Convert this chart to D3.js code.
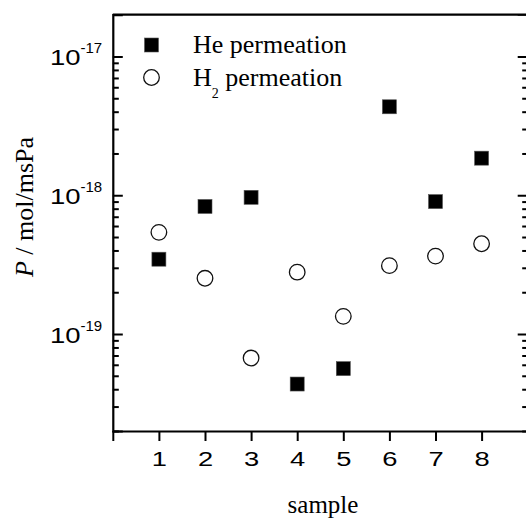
<!DOCTYPE html>
<html>
<head>
<meta charset="utf-8">
<script src="https://cdn.jsdelivr.net/npm/d3@7"></script>
<style>
  body { margin: 0; background: #fff; }
  svg { display: block; }
  .tick text { font-family: "Liberation Sans", Arial, sans-serif; }
  .serif { font-family: "Liberation Serif", "Times New Roman", serif; }
</style>
</head>
<body>
<svg id="chart" width="526" height="518"></svg>
<script>

// data
var samples = [1, 2, 3, 4, 5, 6, 7, 8];
var heValues = [3.46e-19, 8.3e-19, 9.66e-19, 4.36e-20, 5.63e-20, 4.34e-18, 9.0e-19, 1.85e-18];
var h2Values = [5.40e-19, 2.52e-19, 6.71e-20, 2.79e-19, 1.34e-19, 3.11e-19, 3.64e-19, 4.47e-19];

var xTicks = [0, 1, 2, 3, 4, 5, 6, 7, 8, 9];
var xTickLabels = ["", "1", "2", "3", "4", "5", "6", "7", "8", ""];
var yMajor = [1e-19, 1e-18, 1e-17];
var yMajorExp = ["-19", "-18", "-17"];
var yMinor = [2e-20, 3e-20, 4e-20, 5e-20, 6e-20, 7e-20, 8e-20, 9e-20,
              2e-19, 3e-19, 4e-19, 5e-19, 6e-19, 7e-19, 8e-19, 9e-19,
              2e-18, 3e-18, 4e-18, 5e-18, 6e-18, 7e-18, 8e-18, 9e-18];

function init(){
  draw_chart();
}

function draw_chart(){

  var svg = d3.select('#chart');
  var left = 112.8, right = 527.7, top = 14.7, bottom = 431;

  var x = d3.scaleLinear().domain([0, 9]).range([left, right]);
  var y = d3.scaleLog().domain([2e-20, 2e-17]).range([bottom, top]);

  var sans = '"Liberation Sans", Arial, sans-serif';

  // frame: top and right lines
  svg.append('line').attr('x1', left).attr('x2', right + 2).attr('y1', top).attr('y2', top)
     .attr('stroke', '#000').attr('stroke-width', 2.2);
  svg.append('line').attr('x1', right).attr('x2', right).attr('y1', top).attr('y2', bottom)
     .attr('stroke', '#000').attr('stroke-width', 2.2);

  // bottom axis, ticks pointing out
  var gx = svg.append('g')
     .attr('transform', 'translate(0,' + bottom + ')')
     .call(d3.axisBottom(x).tickValues(xTicks).tickSizeInner(10).tickSizeOuter(0)
             .tickFormat(function(d, i){ return xTickLabels[i]; }));
  gx.select('.domain').attr('stroke-width', 2.2);
  gx.selectAll('.tick line').attr('stroke-width', 2);
  gx.selectAll('.tick text')
    .attr('y', 0).attr('dy', 0)
    .attr('font-size', 21)
    .attr('transform', 'translate(0,35) scale(1.3,1)');

  // left axis, ticks pointing in
  var gl = svg.append('g').attr('transform', 'translate(' + left + ',0)');
  gl.call(d3.axisLeft(y).tickValues(yMajor).tickSize(-10).tickFormat(''));
  gl.append('g').call(d3.axisLeft(y).tickValues(yMinor).tickSize(-6).tickFormat(''))
    .select('.domain').remove();
  gl.selectAll('.domain').attr('stroke-width', 2.2);
  gl.selectAll('.tick line').attr('stroke-width', 2);

  // right axis, ticks pointing in
  var gr = svg.append('g').attr('transform', 'translate(' + right + ',0)');
  gr.call(d3.axisRight(y).tickValues(yMajor).tickSize(-10).tickFormat(''));
  gr.append('g').call(d3.axisRight(y).tickValues(yMinor).tickSize(-5.5).tickFormat(''))
    .select('.domain').remove();
  gr.selectAll('.tick line').attr('stroke-width', 2);

  // y tick labels 10^n
  var lab = svg.append('g').selectAll('g').data(yMajor).enter().append('g')
     .attr('transform', function(d){ return 'translate(0,' + y(d) + ')'; });
  lab.append('text')
     .attr('transform', 'translate(50,8.5) scale(1.25,1)')
     .attr('font-family', sans).attr('font-size', 22)
     .text('10');
  lab.append('text')
     .attr('x', 80.5).attr('y', -3.5)
     .attr('font-family', sans).attr('font-size', 15)
     .text(function(d, i){ return yMajorExp[i]; });

  // H2 points, open circles
  svg.append('g').selectAll('circle')
     .data(samples).enter()
     .append('circle')
     .attr('cx', function(d){ return x(d); })
     .attr('cy', function(d, i){ return y(h2Values[i]); })
     .attr('r', 7.8)
     .attr('fill', '#fff')
     .attr('stroke', '#111')
     .attr('stroke-width', 1.3);

  // He points, filled squares
  svg.append('g').selectAll('rect')
     .data(samples).enter()
     .append('rect')
     .attr('x', function(d){ return x(d) - 7; })
     .attr('y', function(d, i){ return y(heValues[i]) - 7; })
     .attr('width', 14).attr('height', 14)
     .attr('fill', '#000')
     .attr('stroke', '#555').attr('stroke-width', 0.6);

  // legend
  svg.append('rect').attr('x', 144.5).attr('y', 38).attr('width', 14).attr('height', 14)
     .attr('fill', '#000').attr('stroke', '#555').attr('stroke-width', 0.6);
  svg.append('circle').attr('cx', 151.5).attr('cy', 77.5).attr('r', 7.8)
     .attr('fill', '#fff').attr('stroke', '#111').attr('stroke-width', 1.3);
  svg.append('text').attr('class', 'serif').attr('x', 193).attr('y', 53.3)
     .attr('font-size', 26)
     .text('He permeation');
  var t2 = svg.append('text').attr('class', 'serif').attr('x', 193).attr('y', 86)
     .attr('font-size', 26);
  t2.append('tspan').text('H');
  t2.append('tspan').attr('font-size', 14).attr('dy', 12).text('2');
  t2.append('tspan').attr('dy', -12).text(' permeation');

  // axis titles
  svg.append('text').attr('class', 'serif')
     .attr('x', 323).attr('y', 513)
     .attr('text-anchor', 'middle')
     .attr('font-size', 25)
     .text('sample');

  var yt = svg.append('text').attr('class', 'serif')
     .attr('transform', 'translate(33,207) rotate(-90)')
     .attr('text-anchor', 'middle')
     .attr('font-size', 26);
  yt.append('tspan').attr('font-style', 'italic').text('P');
  yt.append('tspan').text(' / mol/msPa');
}

init();
</script>
</body>
</html>
